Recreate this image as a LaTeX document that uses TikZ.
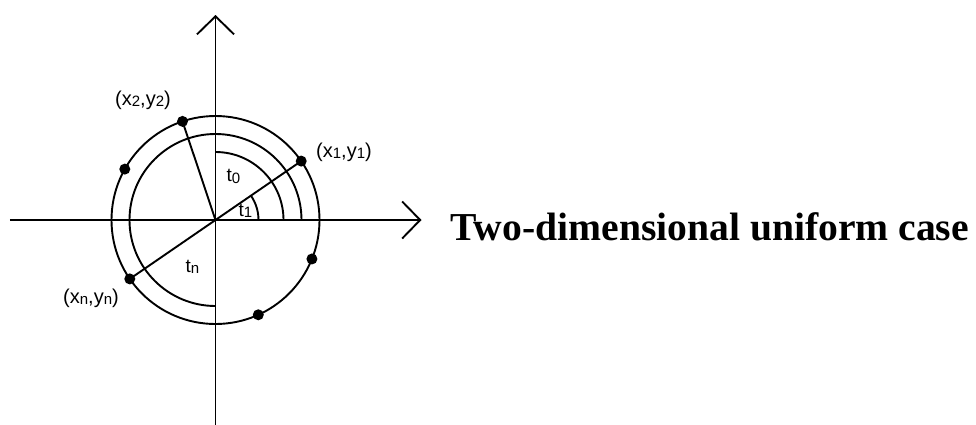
\documentclass[tikz,border=0pt]{standalone}
\usepackage{fontspec}
\setmainfont{Liberation Serif}
\setsansfont{Liberation Sans}
\usetikzlibrary{arrows.meta}
\newcommand{\lowidx}[1]{\raisebox{-1.2pt}{\fontsize{15}{15}\selectfont #1}}

\begin{document}
\begin{tikzpicture}[
    x=1pt, y=1pt,
    line width=1.9pt,
    every node/.style={font=\sffamily\fontsize{20}{22}\selectfont},
    axis/.style={-{Straight Barb[length=18pt,width=37pt]}},
    dot/.style={circle, fill=black, inner sep=0pt, minimum size=11pt},
    tlabel/.style={font=\sffamily\fontsize{19}{20}\selectfont}
  ]
    \useasboundingbox (-215.5,-204) rectangle (760.5,220);
    \coordinate (O) at (0,0);
    \coordinate (xl) at (-205.5,0);
    \coordinate (xr) at (206,0);
    \coordinate (yb) at (0,-206);
    \coordinate (yt) at (0,205);

    % circle and angle arcs
    \draw (O) circle (104);
    \draw (86,0) arc (0:270:86);
    \draw (68,0) arc (0:90:68);
    \draw (43,0) arc (0:34.5:43);

    % axes
    \draw[axis] (xl) -- (xr);
    \draw[axis] (yb) -- (yt);

    % points on the circle
    \foreach \name/\ang in {p1/34.5, p2/108.5, p3/150.7, pn/214.5, p5/-22, p6/-65.7}
      \node[dot] (\name) at (\ang:104) {};
    \draw (pn.center) -- (p1.center);
    \draw (O) -- (p2.center);

    % labels
    \node (lab1) at (128.5,68) {(x\lowidx{1},y\lowidx{1})};
    \node (lab2) at (-72.5,120) {(x\lowidx{2},y\lowidx{2})};
    \node (labn) at (-124.5,-78) {(x\lowidx{n},y\lowidx{n})};
    \node[tlabel] (t0) at (18,43.5) {t\lowidx{0}};
    \node[tlabel] (t1) at (30,9) {t\lowidx{1}};
    \node[tlabel] (tn) at (-23,-46.5) {t\lowidx{n}};

    \node[font=\rmfamily\bfseries\fontsize{39.6}{42}\selectfont, anchor=base west, inner sep=0pt] (title) at (234,-20) {Two-dimensional uniform case};
\end{tikzpicture}
\end{document}
